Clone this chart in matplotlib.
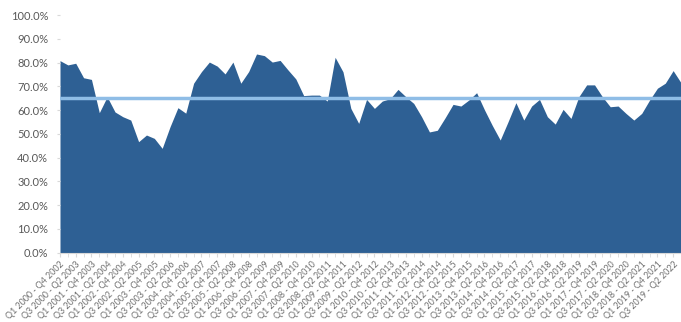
import numpy as np
import matplotlib
matplotlib.use("Agg")
import matplotlib.pyplot as plt
from matplotlib.ticker import PercentFormatter

# rolling three-year windows, one per quarter start
start_q = [(y, q) for y in range(2000, 2020) for q in (1, 2, 3, 4)][:80]
windows = [f"Q{q} {y} - Q{(q + 2) % 4 + 1} {y + 2 + (1 if q > 1 else 0)}" for y, q in start_q]

share = [80.8, 79.0, 79.7, 73.6, 72.9, 58.9, 65.6, 59.2, 57.2, 55.8,
         46.7, 49.5, 48.1, 43.9, 53.0, 61.0, 58.7, 71.3, 76.2, 80.2,
         78.5, 75.2, 80.2, 71.3, 76.2, 83.6, 82.9, 80.2, 80.9, 76.9,
         73.1, 66.1, 66.3, 66.3, 63.8, 82.2, 76.1, 60.7, 54.4, 64.5,
         60.7, 63.8, 64.8, 68.7, 65.6, 62.8, 57.2, 50.8, 51.5, 56.8,
         62.4, 61.7, 64.2, 67.3, 60.1, 53.5, 47.4, 55.1, 63.1, 55.8,
         61.7, 64.5, 57.2, 54.1, 60.3, 56.5, 65.6, 70.6, 70.6, 65.6,
         61.4, 61.7, 58.6, 55.8, 58.6, 64.2, 69.2, 71.3, 76.6, 71.5]
average = 65.0

plt.rcParams['font.family'] = ['Lato', 'DejaVu Sans']

fig = plt.figure(figsize=(6.81, 3.22), dpi=100)
ax = fig.add_axes([60 / 681, 69.3 / 322, 621 / 681, 237.7 / 322])

x = np.arange(len(share))
vals = np.array(share) / 100
ax.fill_between(x, vals, 0, color='#2e6094', linewidth=0)
ax.axhline(average / 100, color='#8fbde6', linewidth=2.5)

ax.set_xlim(0, 78.5)
ax.set_ylim(0, 1.0)
ax.set_yticks(np.arange(0, 1.01, 0.1))
ax.yaxis.set_major_formatter(PercentFormatter(1.0, decimals=1))

ax.set_xticks(x[::2])
ax.set_xticklabels(windows[::2], rotation=45, ha='right', va='top',
                   rotation_mode='anchor', fontsize=6.4, color='#707070')
ax.set_xticks(x, minor=True)

for s in ['top', 'right', 'left']:
    ax.spines[s].set_visible(False)
ax.spines['bottom'].set_color('#d9d9d9')
ax.tick_params(axis='y', length=2.5, color='#d9d9d9', labelsize=8,
               labelcolor='#595959', pad=6)
ax.tick_params(axis='x', which='both', length=3, color='#d9d9d9', pad=2)

fig.savefig('out.png', dpi=100)
